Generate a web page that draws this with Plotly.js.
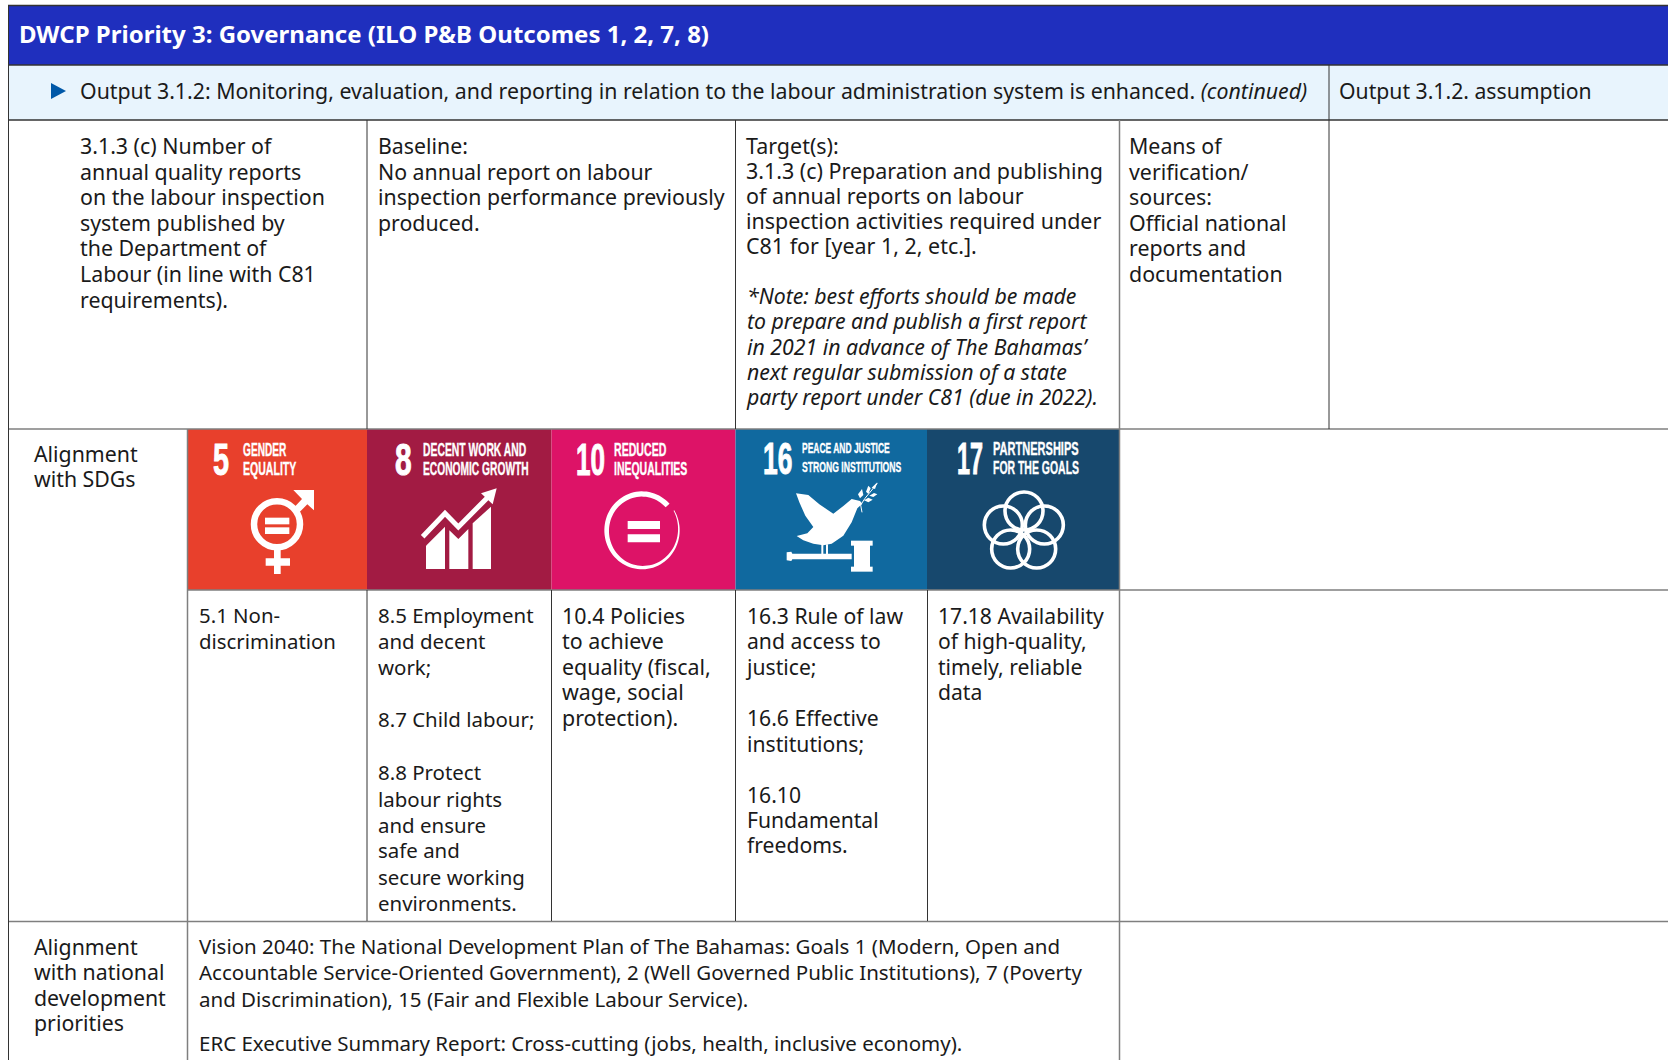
<!DOCTYPE html>
<html><head><meta charset="utf-8">
<script src="https://cdn.plot.ly/plotly-3.0.0.min.js"></script>
<style>html,body{margin:0;padding:0;background:#fff;overflow:hidden}#c{width:1668px;height:1060px}</style>
</head><body><div id="c"></div>
<script>
// ---------- table content ----------
const headerText = "DWCP Priority 3: Governance (ILO P&B Outcomes 1, 2, 7, 8)";
const outputText = "Output 3.1.2: Monitoring, evaluation, and reporting in relation to the labour administration system is enhanced. <i>(continued)</i>";
const assumptionText = "Output 3.1.2. assumption";
const indicatorLines = ["3.1.3 (c) Number of","annual quality reports","on the labour inspection","system published by","the Department of","Labour (in line with C81","requirements)."];
const baselineLines = ["Baseline:","No annual report on labour","inspection performance previously","produced."];
const targetLines = ["Target(s):","3.1.3 (c) Preparation and publishing","of annual reports on labour","inspection activities required under","C81 for [year 1, 2, etc.]."];
const noteLines = ["<i>*Note: best efforts should be made</i>","<i>to prepare and publish a first report</i>","<i>in 2021 in advance of The Bahamas’</i>","<i>next regular submission of a state</i>","<i>party report under C81 (due in 2022).</i>"];
const meansLines = ["Means of","verification/","sources:","Official national","reports and","documentation"];
const sdgLabel = ["Alignment","with SDGs"];
const sdg5Lines = ["5.1 Non-","discrimination"];
const sdg8Lines = ["8.5 Employment","and decent","work;","8.7 Child labour;","8.8 Protect","labour rights","and ensure","safe and","secure working","environments."];
const sdg10Lines = ["10.4 Policies","to achieve","equality (fiscal,","wage, social","protection)."];
const sdg16Lines = ["16.3 Rule of law","and access to","justice;","16.6 Effective","institutions;","16.10","Fundamental","freedoms."];
const sdg17Lines = ["17.18 Availability","of high-quality,","timely, reliable","data"];
const nationalLabel = ["Alignment","with national","development","priorities"];
const nationalLines = ["Vision 2040: The National Development Plan of The Bahamas: Goals 1 (Modern, Open and","Accountable Service-Oriented Government), 2 (Well Governed Public Institutions), 7 (Poverty","and Discrimination), 15 (Fair and Flexible Labour Service).","ERC Executive Summary Report: Cross-cutting (jobs, health, inclusive economy)."];
const iconNumbers = ["5","8","10","16","17"];
const iconTop = ["GENDER","DECENT WORK AND","REDUCED","PEACE AND JUSTICE","PARTNERSHIPS"];
const iconBottom = ["EQUALITY","ECONOMIC GROWTH","INEQUALITIES","STRONG INSTITUTIONS","FOR THE GOALS"];

// ---------- layout helpers ----------
const F = '"Noto Sans", sans-serif', INK = '#1a1a1a';
const DARK = '#333333', GREY = '#7f7f7f';
const iconColors = ['#E8402C','#A21B43','#DD1367','#10699F','#17486D'];
const iconEdges = [187.5,367,551.5,735.5,927,1119];
const shapes = [], annotations = [], cellBaselines = {};
const rect = (x0,y0,x1,y1,c)=>shapes.push({type:'rect',x0,y0,x1,y1,fillcolor:c,line:{width:0},layer:'below'});
const rule = (x0,y0,x1,y1,c,w)=>shapes.push({type:'line',x0,y0,x1,y1,line:{color:c,width:w||1},layer:'below'});
const poly = (pts,c)=>shapes.push({type:'path',path:'M'+pts.map(p=>p[0]+','+p[1]).join('L')+'Z',fillcolor:c,line:{width:0},layer:'above'});
const stroke = (pts,c,w)=>shapes.push({type:'path',path:'M'+pts.map(p=>p[0]+','+p[1]).join('L'),line:{color:c,width:w},layer:'above'});
const ring = (cx,cy,r,c,w)=>shapes.push({type:'circle',x0:cx-r,x1:cx+r,y0:cy-r,y1:cy+r,line:{color:c,width:w},layer:'above'});
const at = (ox,oy,pts)=>pts.map(p=>[ox+p[0]/3,oy+p[1]/3]);
function text(t,x,y,size,o){o=o||{};annotations.push({text:t,x,y,xref:'x',yref:'y',xanchor:'left',yanchor:'middle',showarrow:false,align:'left',borderpad:0,borderwidth:0,
  font:{family:F,size,color:o.color||INK}});}
// one text per cell; its lines are set to the table's own tight leading after drawing
function column(lines,x,ys,size,dy){
  const d=dy===undefined?-1.3:dy;
  cellBaselines[annotations.length]=ys.map(c=>c+d+0.388*size);
  text(lines.join(' <br>'),x,ys[0]+d,size);
}

// ---------- backgrounds ----------
rect(8,6,1668,65,'#1F2FBE');
rect(8,65,1668,120,'#E8F4FD');
iconColors.forEach((c,i)=>rect(iconEdges[i],429,iconEdges[i+1],590,c));

// ---------- rules ----------
rule(8,5.5,1668,5.5,DARK,1.5);
rule(8,65,1668,65,DARK,1.5);
rule(8,120,1668,120,DARK,1.5);
rule(8,429,1668,429,GREY,1.5);
rule(187.5,590,1668,590,GREY,1.5);
rule(8,921.5,1668,921.5,GREY,1.5);
rule(8.5,5.5,8.5,1060,DARK,1);
rule(187.5,429,187.5,1060,GREY,1.5);
[[367,120,429],[735.5,120,429],[367,590,921],[551.5,590,921],[735.5,590,921],[927.5,590,921]].forEach(v=>rule(v[0],v[1],v[0],v[2],DARK,1));
rule(1119.5,120,1119.5,1060,GREY,1.5);
rule(1329,65,1329,429,DARK,1);

// ---------- text ----------
text('<b>'+headerText+'</b>',19,33.5,24,{color:'#ffffff'});
poly([[51,83],[66,91],[51,99]],'#0058A8');
text(outputText,80,90.5,21.3);
text(assumptionText,1339,90.5,21.2);
column(indicatorLines,80,[146.7,173,198.3,224,249,275,300.7],21.35);
column(baselineLines,378,[146.7,173,198.3,224],21.3);
column(targetLines,746,[146.7,171.7,196.7,221.7,246.7],21.45);
column(noteLines,745.5,[296.7,322,347.7,373.3,398.3],21.25);
column(meansLines,1129,[146.7,173,198.3,224,249,275],21.35);
column(sdgLabel,34,[455.3,480],21.3);
column(sdg5Lines,199,[616.7,642],20.4);
column(sdg8Lines,378,[616.7,642.3,668,720.7,773,800,826,851.7,878,904],20.45);
column(sdg10Lines,562,[616.7,642,667.7,693,718.5],21.4);
column(sdg16Lines,744.5,[616.7,642,667.7,719,745.5,796,821.5,846.5],21.15);
column(sdg17Lines,937.7,[616.7,642,667.7,693],21.1);
column(nationalLabel,34,[948.3,974,1000,1025],21.3,-2);
column(nationalLines,199,[948.3,974,1000.7,1045],20.5,-2);

// ---------- icon lettering (widths fitted after drawing) ----------
const NARROW = '"Liberation Sans Narrow","Liberation Sans",sans-serif', W = '#ffffff';
const fitted = {};
function iconText(t,x0,x1,yc,size,ox,oy){
  const x=ox+x0/3; fitted[t+'|'+size]=(x1-x0)/3;
  annotations.push({text:'<b>'+t+'</b>',x,y:oy+yc/3,xref:'x',yref:'y',xanchor:'left',yanchor:'middle',showarrow:false,align:'left',borderpad:0,borderwidth:0,font:{family:NARROW,size,color:W}});
}
const oA=[180,425], oB=[550,425], oC=[920,425];
iconText(iconNumbers[0],100,148,103,44,...oA);
iconText(iconTop[0],190,320,76,17.5,...oA);
iconText(iconBottom[0],190,350,131,17.5,...oA);
iconText(iconNumbers[1],645,695,103,44,...oA);
iconText(iconTop[1],728,1038,76,17.5,...oA);
iconText(iconBottom[1],728,1045,131,17.5,...oA);
iconText(iconNumbers[2],78,165,103,44,...oB);
iconText(iconTop[2],193,350,75,17.5,...oB);
iconText(iconBottom[2],193,413,131,17.5,...oB);
iconText(iconNumbers[3],640,728,100,44,...oB);
iconText(iconTop[3],757,1020,66,15.5,...oB);
iconText(iconBottom[3],757,1055,123,15.5,...oB);
iconText(iconNumbers[4],110,188,100,44,...oC);
iconText(iconTop[4],220,477,71,17.5,...oC);
iconText(iconBottom[4],220,478,128,17.5,...oC);

// ---------- pictograms ----------
// 5 gender
ring(277,524.3,23,W,6.5);
poly(at(...oA,[[255,278],[328,278],[328,298],[255,298]]),W);
poly(at(...oA,[[255,307],[328,307],[328,327],[255,327]]),W);
poly(at(...oA,[[282,372],[302,372],[302,400],[330,400],[330,422],[302,422],[302,447],[282,447],[282,422],[257,422],[257,400],[282,400]]),W);
poly(at(...oA,[[340,195],[402,195],[402,256],[382,238],[352,268],[338,252],[366,222]]),W);
// 8 growth
poly(at(...oA,[[738,432],[738,362],[795,305],[795,432]]),W);
poly(at(...oA,[[808,432],[808,316],[835,342],[865,312],[865,432]]),W);
poly(at(...oA,[[878,432],[878,295],[933,245],[933,432]]),W);
stroke(at(...oA,[[728,335],[795,265],[835,306],[922,218]]),W,5);
poly(at(...oA,[[950,190],[938,238],[903,205]]),W);
// 10 inequality ring: starts thick at upper right, runs anticlockwise and thins out
{const outer=[],inner=[];
 for(let s=0;s<=349;s+=4){const ang=(-43-s)*Math.PI/180,t=s/349;
  outer.push([276+113*Math.cos(ang),316+117*Math.sin(ang)]);
  const thick=16-13.5*t*t;
  inner.push([276+(113-thick)*Math.cos(ang),316+(117-thick)*Math.sin(ang)]);}
 poly(at(...oB,outer.concat(inner.reverse())),W);}
poly(at(...oB,[[233,288],[330,288],[330,312],[233,312]]),W);
poly(at(...oB,[[233,328],[330,328],[330,352],[233,352]]),W);
// 16 dove and gavel
poly(at(...oB,[[738,205],[775,210],[808,238],[850,266],[880,243],[905,222],[930,228],[937,236],[922,250],[905,292],[880,332],[845,356],[820,361],[790,356],[760,346],[740,333],[772,325],[790,306],[766,272],[748,232]]),W);
poly(at(...oB,[[814,358],[820,358],[820,388],[814,388]]),W);
poly(at(...oB,[[828,358],[834,358],[834,388],[828,388]]),W);
poly(at(...oB,[[710,382],[724,380],[727,386],[905,386],[905,403],[727,403],[724,408],[710,406]]),W);
poly(at(...oB,[[912,358],[960,358],[960,430],[912,430]]),W);
poly(at(...oB,[[903,347],[968,347],[968,362],[903,362]]),W);
poly(at(...oB,[[903,425],[968,425],[968,440],[903,440]]),W);
stroke(at(...oB,[[936,262],[932,240],[945,220],[982,175]]),W,1);
poly(at(...oB,[[924,208],[936,192],[940,210],[930,220]]),W);
poly(at(...oB,[[948,200],[955,182],[962,190],[955,207]]),W);
poly(at(...oB,[[965,188],[982,172],[975,192]]),W);
poly(at(...oB,[[942,226],[955,218],[968,224],[955,232]]),W);
poly(at(...oB,[[958,212],[972,204],[982,208],[970,216]]),W);
// 17 flower of rings
[[312,258],[250,300],[373,300],[272,372],[350,372]].forEach(p=>ring(920+p[0]/3,425+p[1]/3,19,W,3.6));

// ---------- draw ----------
Plotly.newPlot('c',[],{
  width:1668,height:1060,margin:{l:0,r:0,t:0,b:0},paper_bgcolor:'#fff',plot_bgcolor:'#fff',showlegend:false,
  xaxis:{range:[0,1668],visible:false,fixedrange:true},
  yaxis:{range:[1060,0],visible:false,fixedrange:true},
  shapes,annotations
},{staticPlot:true,displayModeBar:false}).then(gd=>{
  annotations.forEach((a,i)=>{
    const g=gd.querySelector('.annotation[data-index="'+i+'"]');
    const el=g&&g.querySelector('.annotation-text');
    if(!el) return;
    // tight leading for multi-line cells
    if(cellBaselines[i]){
      const top=gd.getBoundingClientRect().top;
      el.querySelectorAll('tspan.line').forEach((ln,k)=>{
        const ctm=ln.getScreenCTM(), y0=parseFloat(ln.getAttribute('y')||el.getAttribute('y')||0);
        const dy=cellBaselines[i][k]-(ctm.f-top+y0*ctm.d);
        ln.setAttribute('dy',dy.toFixed(2)+'px');
      });
    }
    // condensed goal lettering
    const m=a.text.match(/^<b>(.*)<\/b>$/);
    const w=m&&fitted[m[1]+'|'+a.font.size];
    if(w){
      const set=e=>{e.setAttribute('textLength',w);e.setAttribute('lengthAdjust','spacingAndGlyphs');};
      set(el); el.querySelectorAll('tspan').forEach(set);
      el.style.stroke='#ffffff'; el.style.strokeWidth=a.font.size>30?'1':'0.35';
    }
    // keep the annotation's box equal to the text as it now stands
    const bb=el.getBBox(), r=g.querySelector('rect.bg');
    if(r){r.setAttribute('width',w||bb.width);r.setAttribute('height',bb.height);}
  });
});
</script></body></html>
